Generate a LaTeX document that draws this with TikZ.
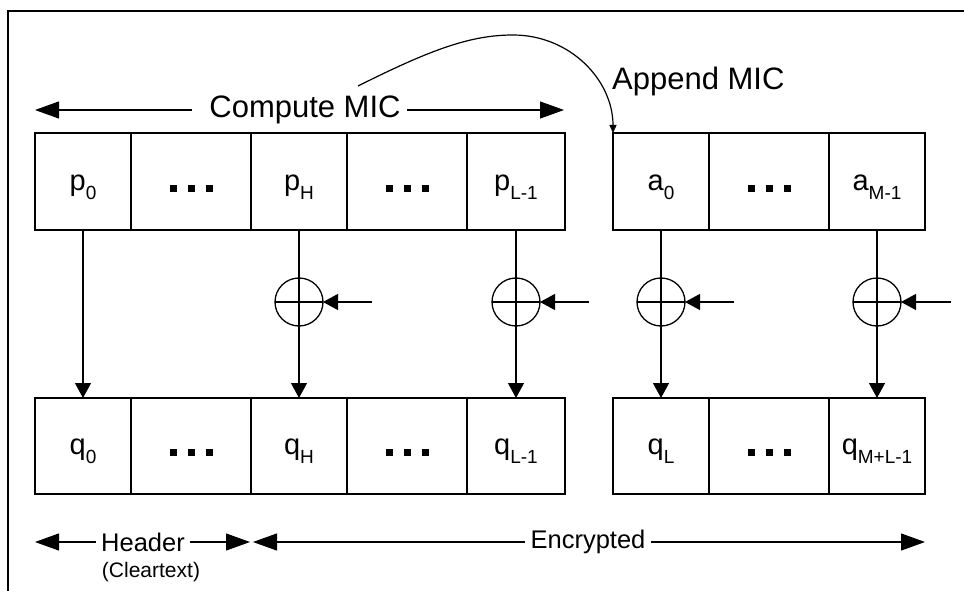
\documentclass[tikz,border=0pt]{standalone}
\usepackage{fontspec}
\setmainfont{Liberation Sans}
\usetikzlibrary{arrows.meta}

% label with a lowered subscript
\newcommand{\cellsub}[2]{#1{\fontsize{19}{19}\selectfont\raisebox{-9pt}{#2}}}
% three square dots standing for omitted cells
\newcommand{\dotsq}{\raisebox{-1.5pt}{\rule{7pt}{7pt}}}
\newcommand{\celldots}{\dotsq\hspace{11pt}\dotsq\hspace{11pt}\dotsq}

\begin{document}
\begin{tikzpicture}[x=1pt,y=-1pt,
  cellbase/.style={draw, line width=1.3pt, inner sep=0pt, outer sep=0pt,
    text height=17pt, text depth=0pt, font=\fontsize{29}{29}\selectfont},
  cellt/.style={cellbase, minimum width=#1, minimum height=97pt},
  cellb/.style={cellbase, minimum width=#1, minimum height=96pt},
  xor/.style={circle, draw, line width=1.3pt, minimum size=48pt, inner sep=0pt, outer sep=0pt,
    path picture={\draw[line width=1.3pt]
      (path picture bounding box.north) -- (path picture bounding box.south)
      (path picture bounding box.west) -- (path picture bounding box.east);}},
  link/.style={line width=1.2pt},
  flow/.style={line width=1.2pt, -{Triangle[length=15pt,width=16pt]}},
  dim/.style={line width=1.2pt, -{Triangle[length=24pt,width=17pt]}},
  bigtext/.style={font=\fontsize{31}{31}\selectfont},
  midtext/.style={font=\fontsize{25.5}{25.5}\selectfont},
  smalltext/.style={font=\fontsize{21}{21}\selectfont}
]
\useasboundingbox (0,0) rectangle (964,591);

% outer frame (top and left edges)
\draw[line width=1.3pt] (964,11) -- (8,11) -- (8,591);

% plaintext and MIC cells
\node[cellt=96pt]  (p0)  at (83,181.5)  {\cellsub{p}{0}};
\node[cellt=120pt] (pd1) at (191,181.5) {\celldots};
\node[cellt=96pt]  (pH)  at (299,181.5) {\cellsub{p}{H}};
\node[cellt=120pt] (pd2) at (407,181.5) {\celldots};
\node[cellt=98pt]  (pL)  at (516,181.5) {\cellsub{p}{L-1}};
\node[cellt=96pt]  (a0)  at (661,181.5) {\cellsub{a}{0}};
\node[cellt=120pt] (ad)  at (769,181.5) {\celldots};
\node[cellt=96pt]  (aM)  at (877,181.5) {\cellsub{a}{M-1}};

% output cells
\node[cellb=96pt]  (q0)  at (83,446)  {\cellsub{q}{0}};
\node[cellb=120pt] (qd1) at (191,446) {\celldots};
\node[cellb=96pt]  (qH)  at (299,446) {\cellsub{q}{H}};
\node[cellb=120pt] (qd2) at (407,446) {\celldots};
\node[cellb=98pt]  (qL)  at (516,446) {\cellsub{q}{L-1}};
\node[cellb=96pt]  (qA)  at (661,446) {\cellsub{q}{L}};
\node[cellb=120pt] (qd3) at (769,446) {\celldots};
\node[cellb=96pt]  (qM)  at (877,446) {\cellsub{q}{M+L-1}};

% XOR combiners and their keystream inputs
\node[xor] (xH) at (299,302) {};
\node[xor] (xL) at (516,302) {};
\node[xor] (xA) at (661,302) {};
\node[xor] (xM) at (877,302) {};
\coordinate (iH) at (372,302);
\coordinate (iL) at (589,302);
\coordinate (iA) at (734,302);
\coordinate (iM) at (951,302);

% data flow
\draw[flow] (p0) -- (q0);
\foreach \t/\x/\b/\i in {pH/xH/qH/iH, pL/xL/qL/iL, a0/xA/qA/iA, aM/xM/qM/iM}{
  \draw[link] (\t) -- (\x);
  \draw[flow] (\x) -- (\b);
  \draw[flow] (\i) -- (\x);
}

% Compute MIC span
\node[bigtext, inner xsep=6pt] (cm) at (305,110) {Compute MIC};
\coordinate (cmL) at (35,110);
\coordinate (cmR) at (564,110);
\draw[dim] ([xshift=-11pt]cm.west) -- (cmL);
\draw[dim] (cm.east) -- (cmR);

% Append MIC
\node[bigtext, anchor=base west, inner sep=0pt] (am) at (612,90) {Append MIC};
\coordinate (amS) at (358,86);
\draw[line width=1.2pt, -{Triangle[length=8pt,width=7pt]}]
  (amS) .. controls (430,50) and (470,35) .. (513,35)
        .. controls (570,35) and (613,80) .. (a0.north west);

% header / encrypted spans
\node[midtext, inner xsep=5pt] (hd) at (143,542) {Header};
\node[smalltext] (ct) at (151,572) {(Cleartext)};
\coordinate (hdL) at (35,542);
\coordinate (hdR) at (250,542);
\draw[dim] (hd.west) -- (hdL);
\draw[dim] (hd.east) -- (hdR);

\node[midtext, inner xsep=5.5pt] (en) at (588,542) {Encrypted};
\coordinate (enL) at (253,542);
\coordinate (enR) at (925,542);
\draw[dim] (en.west) -- (enL);
\draw[dim] (en.east) -- (enR);
\end{tikzpicture}
\end{document}
